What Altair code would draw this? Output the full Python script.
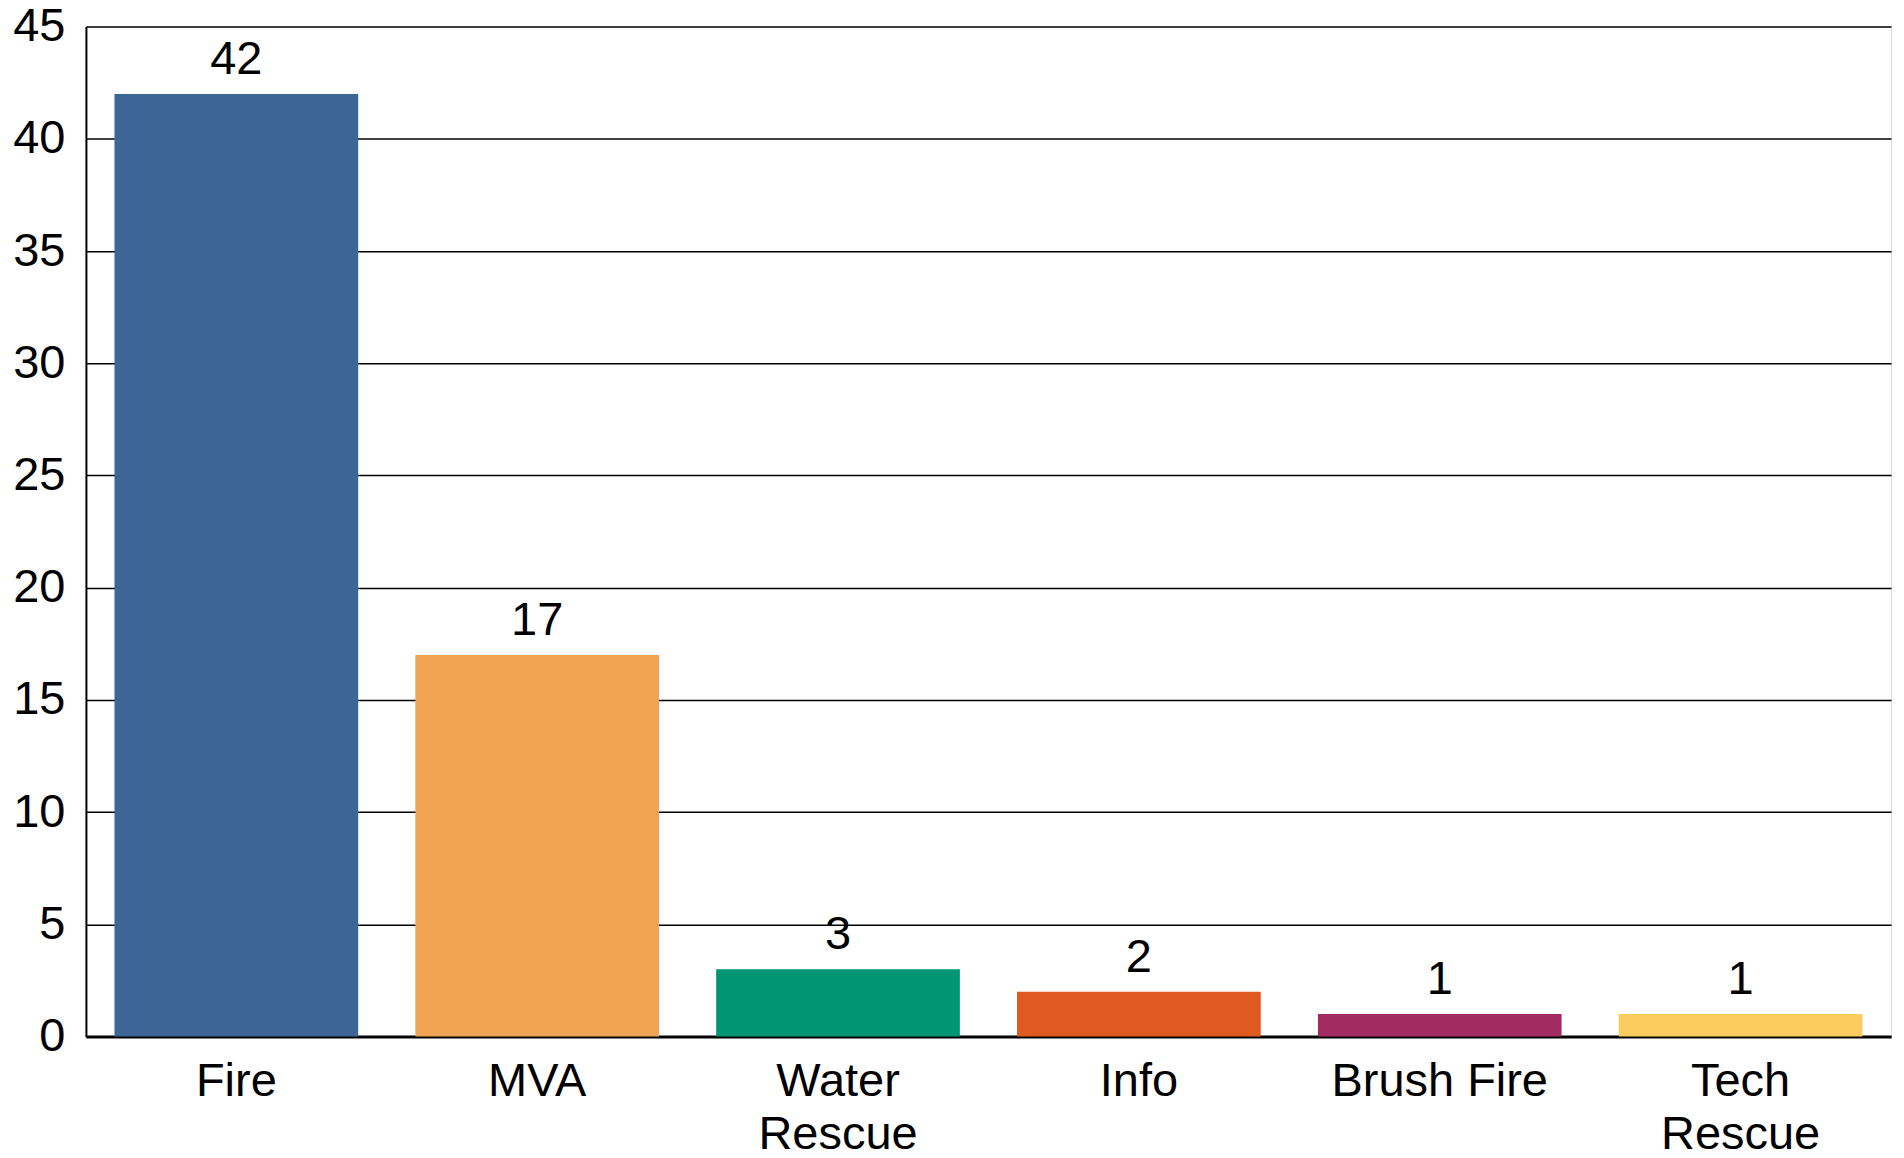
import altair as alt
import pandas as pd

categories = ["Fire", "MVA", "Water\nRescue", "Info", "Brush Fire", "Tech\nRescue"]
counts = [42, 17, 3, 2, 1, 1]
colors = ["#3B6696", "#EFA353", "#019574", "#DE5A20", "#A22C61", "#FDCC5F"]

df = pd.DataFrame({"category": categories, "count": counts, "color": colors})

FONT = "Liberation Sans"
FS = 47

x = alt.X(
    "category:N",
    sort=categories,
    title=None,
    scale=alt.Scale(paddingInner=0.19, paddingOuter=0.095),
    axis=alt.Axis(
        labelAngle=0,
        labelExpr="split(datum.label, '\\n')",
        labelLineHeight=53,
        labelPadding=22,
        labelLimit=0,
        labelOverlap=False,
        ticks=False,
        domain=True,
        domainColor="black",
        domainWidth=3,
        grid=False,
        labelFont=FONT,
        labelFontSize=FS,
        labelColor="black",
    ),
)
y = alt.Y(
    "count:Q",
    title=None,
    scale=alt.Scale(domain=[0, 45], nice=False),
    axis=alt.Axis(
        values=list(range(0, 46, 5)),
        ticks=False,
        labelPadding=21,
        domain=True,
        domainColor="black",
        domainWidth=2,
        grid=True,
        gridColor="black",
        gridWidth=1.5,
        labelFont=FONT,
        labelFontSize=FS,
        labelColor="black",
    ),
)

bars = alt.Chart(df).mark_bar().encode(
    x=x,
    y=y,
    color=alt.Color("color:N", scale=None, legend=None),
)

labels = alt.Chart(df).mark_text(
    baseline="alphabetic", dy=-20, font=FONT, fontSize=FS, color="black"
).encode(
    x=alt.X("category:N", sort=categories),
    y=alt.Y("count:Q"),
    text="count:Q",
)

chart = (
    alt.layer(bars, labels)
    .properties(
        width=1807,
        height=1011,
        autosize=alt.AutoSizeParams(type="none"),
        padding={"left": 78, "top": 18, "right": 5, "bottom": 122},
    )
    .configure_view(stroke="black", strokeWidth=2.5)
    .configure(background="white")
)

chart.save("out.html", embed_options={"renderer": "svg", "actions": False})
